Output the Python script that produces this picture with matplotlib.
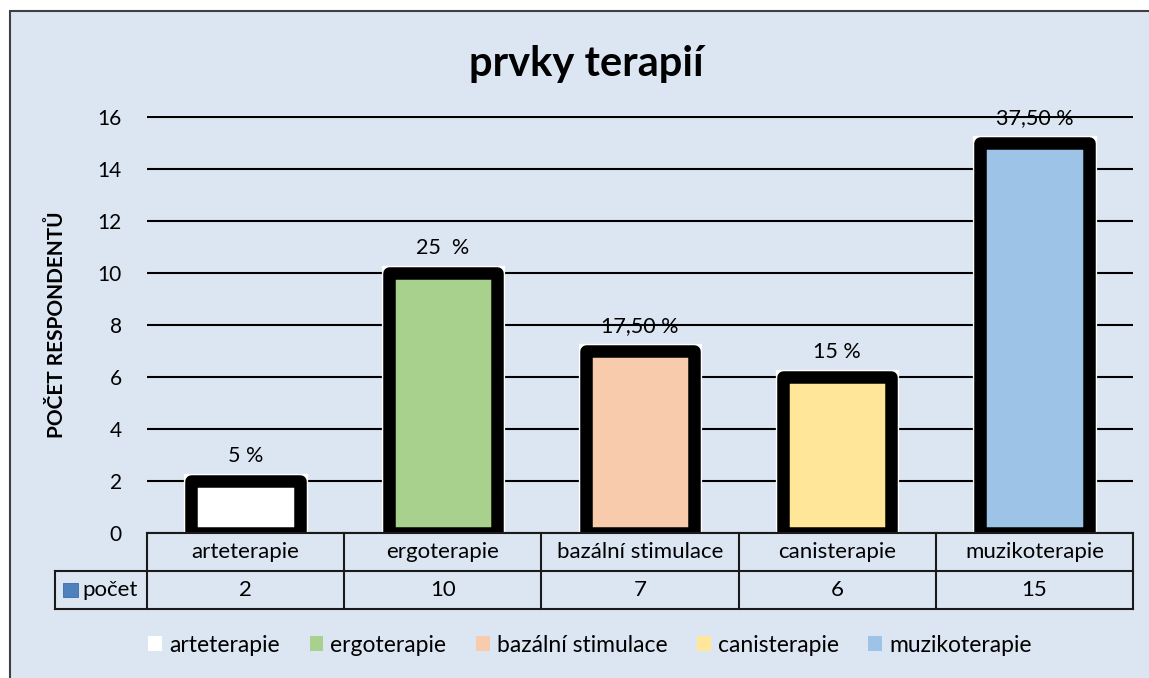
"""Sloupcový graf: prvky terapií (počet respondentů) s tabulkou dat pod osou."""

import matplotlib

matplotlib.use("Agg")
import matplotlib.pyplot as plt
from matplotlib.patches import Patch, Rectangle
from matplotlib.transforms import blended_transform_factory

plt.rcParams["font.family"] = ["Lato", "DejaVu Sans"]

categories = ["arteterapie", "ergoterapie", "bazální stimulace", "canisterapie", "muzikoterapie"]
counts = [2, 10, 7, 6, 15]
pct_labels = ["5 %", "25  %", "17,50 %", "15 %", "37,50 %"]
colors = ["#ffffff", "#a9d18e", "#f8cbad", "#ffe699", "#9dc3e6"]
y_ticks = [0, 2, 4, 6, 8, 10, 12, 14, 16]

BG = "#dce6f2"
W, H = 1149, 678

fig = plt.figure(figsize=(W / 100, H / 100), dpi=100, facecolor="white")

# rámeček grafu
fig.patches.append(Rectangle((10 / W, -0.05), 1.2, (H - 11) / H + 0.05,
                             transform=fig.transFigure, facecolor=BG,
                             edgecolor="#404040", linewidth=1.5, zorder=-1))

ax = fig.add_axes([147 / W, (H - 533) / H, 986 / W, 417.3 / H])
ax.set_facecolor("none")
x = list(range(len(categories)))

# bílé podklady pod sloupci a sloupce s černým zaobleným okrajem
ax.bar(x, counts, width=0.55, color="white", edgecolor="white", linewidth=11,
       zorder=2)
ax.bar(x, counts, width=0.55, color=colors, edgecolor="black", linewidth=9,
       joinstyle="round", zorder=3)

for xi, v, lab in zip(x, counts, pct_labels):
    ax.annotate(lab, (xi, v), xytext=(0, 18), textcoords="offset points",
                ha="center", va="center", fontsize=15.5, zorder=1)

ax.set_xlim(-0.5, len(categories) - 0.5)
ax.set_ylim(0, 16.05)
ax.set_yticks(y_ticks)
ax.set_yticklabels([str(t) for t in y_ticks], fontsize=15)
ax.tick_params(axis="y", length=0, pad=18)
ax.set_xticks([])
ax.yaxis.grid(True, color="black", linewidth=1.5)
ax.set_axisbelow(True)
for s in ax.spines.values():
    s.set_visible(False)

ax.set_ylabel("POČET RESPONDENTŮ", fontsize=15, fontweight="bold")
ax.yaxis.set_label_coords(-0.081, 0.5)

# tabulka dat pod osou
tr = blended_transform_factory(ax.transData, ax.transAxes)
row_h = 0.0905
left_x = -0.967
right_x = len(categories) - 0.5
lkw = dict(color="#1a1a1a", linewidth=1.5, transform=tr, clip_on=False, zorder=4)
ax.plot([-0.5, right_x], [0, 0], **lkw)
ax.plot([left_x, right_x], [-row_h, -row_h], **lkw)
ax.plot([left_x, right_x], [-2 * row_h, -2 * row_h], **lkw)
for xb in [xi - 0.5 for xi in x] + [right_x]:
    ax.plot([xb, xb], [0, -2 * row_h], **lkw)
ax.plot([left_x, left_x], [-row_h, -2 * row_h], **lkw)

for xi, cat, v in zip(x, categories, counts):
    ax.text(xi, -row_h / 2, cat, transform=tr, ha="center", va="center",
            fontsize=16)
    ax.text(xi, -1.5 * row_h, str(v), transform=tr, ha="center", va="center",
            fontsize=16)

ax.add_patch(Rectangle((left_x + 0.04, -1.5 * row_h - 0.017), 0.075, 0.034,
                       transform=tr, facecolor="#4f81bd", edgecolor="#3a6ea5",
                       linewidth=0.6, clip_on=False, zorder=4))
ax.text(left_x + 0.14, -1.5 * row_h, "počet", transform=tr, ha="left",
        va="center", fontsize=16)

fig.text(586 / W, (H - 64) / H, "prvky terapií", ha="center", va="center",
         fontsize=30, fontweight="bold")

handles = [Patch(facecolor=c, edgecolor="none") for c in colors]
fig.legend(handles, categories, loc="center", bbox_to_anchor=(590 / W, (H - 645) / H),
           ncol=5, frameon=False, fontsize=16.5, handlelength=0.6, handleheight=0.6,
           handletextpad=0.3, columnspacing=1.3)

fig.savefig("out.png", dpi=100, facecolor=fig.get_facecolor())
